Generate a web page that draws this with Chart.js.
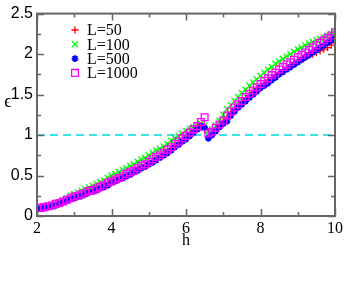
<!DOCTYPE html>
<html>
<head>
<meta charset="utf-8">
<script src="https://cdn.jsdelivr.net/npm/chart.js@4.4.0/dist/chart.umd.min.js"></script>
<style>
  html, body { margin: 0; padding: 0; background: #fff; }
  #wrap { width: 346px; height: 294px; }
</style>
</head>
<body>
<div id="wrap"><canvas id="epsChart" width="346" height="294"></canvas></div>
<script>
// h values (step 0.1)
const hValues = [
  2.0, 2.1, 2.2, 2.3, 2.4, 2.5, 2.6, 2.7, 2.8, 2.9,
  3.0, 3.1, 3.2, 3.3, 3.4, 3.5, 3.6, 3.7, 3.8, 3.9,
  4.0, 4.1, 4.2, 4.3, 4.4, 4.5, 4.6, 4.7, 4.8, 4.9,
  5.0, 5.1, 5.2, 5.3, 5.4, 5.5, 5.6, 5.7, 5.8, 5.9,
  6.0, 6.1, 6.2, 6.3, 6.4, 6.5, 6.6, 6.7, 6.8, 6.9,
  7.0, 7.1, 7.2, 7.3, 7.4, 7.5, 7.6, 7.7, 7.8, 7.9,
  8.0, 8.1, 8.2, 8.3, 8.4, 8.5, 8.6, 8.7, 8.8, 8.9,
  9.0, 9.1, 9.2, 9.3, 9.4, 9.5, 9.6, 9.7, 9.8, 9.9,
  10.0
];

const epsL50 = [
  0.09, 0.10, 0.11, 0.12, 0.13, 0.14, 0.16, 0.18, 0.20, 0.22,
  0.23, 0.25, 0.27, 0.28, 0.30, 0.32, 0.34, 0.36, 0.38, 0.40,
  0.43, 0.45, 0.47, 0.49, 0.51, 0.53, 0.56, 0.58, 0.61, 0.63,
  0.66, 0.68, 0.71, 0.74, 0.77, 0.80, 0.83, 0.87, 0.90, 0.94,
  0.97, 1.01, 1.04, 1.07, 1.09, 1.07, 1.03, 1.04, 1.08, 1.12,
  1.17, 1.21, 1.27, 1.32, 1.36, 1.41, 1.45, 1.49, 1.53, 1.57,
  1.61, 1.64, 1.68, 1.71, 1.74, 1.77, 1.80, 1.83, 1.86, 1.88,
  1.91, 1.93, 1.96, 1.98, 2.00, 2.02, 2.04, 2.06, 2.08, 2.11,
  2.14
];

const epsL100 = [
  0.10, 0.11, 0.12, 0.13, 0.14, 0.15, 0.17, 0.19, 0.22, 0.25,
  0.27, 0.29, 0.31, 0.33, 0.35, 0.37, 0.40, 0.42, 0.44, 0.47,
  0.50, 0.52, 0.54, 0.57, 0.59, 0.62, 0.64, 0.67, 0.70, 0.72,
  0.75, 0.78, 0.81, 0.83, 0.86, 0.89, 0.93, 0.96, 0.99, 1.02,
  1.05, 1.08, 1.10, 1.12, 1.14, 1.12, 1.05, 1.07, 1.12, 1.18,
  1.25, 1.32, 1.37, 1.42, 1.47, 1.52, 1.56, 1.61, 1.65, 1.69,
  1.73, 1.77, 1.81, 1.84, 1.88, 1.91, 1.94, 1.97, 2.00, 2.03,
  2.06, 2.08, 2.11, 2.13, 2.15, 2.17, 2.19, 2.21, 2.23, 2.25,
  2.27
];

const epsL500 = [
  0.08, 0.09, 0.10, 0.11, 0.12, 0.13, 0.15, 0.17, 0.19, 0.21,
  0.22, 0.24, 0.25, 0.27, 0.29, 0.30, 0.32, 0.34, 0.36, 0.38,
  0.41, 0.43, 0.45, 0.47, 0.49, 0.51, 0.54, 0.56, 0.59, 0.61,
  0.64, 0.66, 0.69, 0.72, 0.75, 0.78, 0.81, 0.85, 0.88, 0.92,
  0.95, 0.99, 1.03, 1.07, 1.11, 1.09, 0.96, 1.00, 1.05, 1.10,
  1.14, 1.17, 1.24, 1.29, 1.34, 1.38, 1.42, 1.46, 1.50, 1.54,
  1.58, 1.61, 1.64, 1.68, 1.71, 1.75, 1.78, 1.81, 1.84, 1.87,
  1.90, 1.93, 1.96, 1.99, 2.02, 2.05, 2.08, 2.11, 2.14, 2.17,
  2.21
];

const epsL1000 = [
  0.10, 0.10, 0.11, 0.12, 0.13, 0.15, 0.16, 0.18, 0.20, 0.22,
  0.24, 0.25, 0.27, 0.29, 0.31, 0.32, 0.34, 0.36, 0.38, 0.41,
  0.43, 0.45, 0.47, 0.49, 0.52, 0.54, 0.56, 0.59, 0.62, 0.64,
  0.67, 0.70, 0.73, 0.75, 0.78, 0.82, 0.85, 0.89, 0.92, 0.96,
  0.99, 1.03, 1.07, 1.11, 1.16, 1.22, 1.02, 1.04, 1.09, 1.13,
  1.18, 1.24, 1.29, 1.34, 1.38, 1.42, 1.47, 1.51, 1.55, 1.59,
  1.63, 1.67, 1.70, 1.74, 1.77, 1.81, 1.84, 1.87, 1.90, 1.93,
  1.96, 1.99, 2.02, 2.05, 2.08, 2.11, 2.14, 2.17, 2.20, 2.23,
  2.27
];

const seriesNames = ['L=50', 'L=100', 'L=500', 'L=1000'];
const xTicks = [2, 4, 6, 8, 10];
const xMinor = [3, 5, 7, 9];
const yTicks = [0, 0.5, 1, 1.5, 2, 2.5];
const yMinor = [0.25, 0.75, 1.25, 1.75, 2.25];
const refLevel = 1;
const yLabel = 'ϵ';

const toPoints = ys => hValues.map((h, i) => ({x: h, y: ys[i]}));

const sansFont = {family: '"Liberation Sans", Arial, sans-serif', size: 16};
const serifFont = {family: '"Liberation Serif", "Times New Roman", serif', size: 16};

const datasets = [
  {label: seriesNames[0], data: toPoints(epsL50), pointStyle: 'cross', pointRadius: 3.6,
   borderColor: '#ff0000', backgroundColor: '#ff0000', borderWidth: 1.3, order: 4},
  {label: seriesNames[1], data: toPoints(epsL100), pointStyle: 'crossRot', pointRadius: 4.2,
   borderColor: '#00ff00', backgroundColor: '#00ff00', borderWidth: 1.3, order: 3},
  {label: seriesNames[2], data: toPoints(epsL500), pointStyle: 'star', pointRadius: 3.4,
   borderColor: '#0000ff', backgroundColor: '#0000ff', borderWidth: 1.8, order: 2},
  {label: seriesNames[3], data: toPoints(epsL1000), pointStyle: 'rect', pointRadius: 4.8,
   borderColor: '#ff00ff', backgroundColor: 'rgba(0,0,0,0)', borderWidth: 1.3, order: 1},
  {label: 'ref', type: 'line', data: [{x: xTicks[0], y: refLevel}, {x: xTicks[xTicks.length - 1], y: refLevel}],
   borderColor: '#3fe0ea', borderWidth: 2, borderDash: [8, 5], pointRadius: 0, order: 5}
];

// frame + inward ticks on all four sides
const framePlugin = {
  id: 'frame',
  afterDatasetsDraw(chart) {
    const {ctx, chartArea: a, scales: {x, y}} = chart;
    ctx.save();
    ctx.strokeStyle = '#666';
    ctx.lineWidth = 1.5;
    ctx.beginPath();
    const xt = (vals, len) => vals.forEach(v => {
      const px = Math.round(x.getPixelForValue(v)) + 0.5;
      ctx.moveTo(px, a.bottom); ctx.lineTo(px, a.bottom - len);
      ctx.moveTo(px, a.top); ctx.lineTo(px, a.top + len);
    });
    const yt = (vals, len) => vals.forEach(v => {
      const py = Math.round(y.getPixelForValue(v)) + 0.5;
      ctx.moveTo(a.left, py); ctx.lineTo(a.left + len, py);
      ctx.moveTo(a.right, py); ctx.lineTo(a.right - len, py);
    });
    xt(xTicks, 7); xt(xMinor, 4);
    yt(yTicks, 7); yt(yMinor, 4);
    ctx.stroke();
    ctx.lineWidth = 2;
    ctx.strokeRect(a.left, a.top, a.right - a.left, a.bottom - a.top);
    ctx.restore();
  }
};

// legend inside the plot, top left, and the upright y label
const legendPlugin = {
  id: 'insideLegend',
  afterDraw(chart) {
    const {ctx} = chart;
    ctx.save();
    ctx.font = '16px ' + serifFont.family;
    ctx.textBaseline = 'middle';
    seriesNames.forEach((name, i) => {
      const ds = chart.data.datasets[i];
      const yy = 30 + i * 14.3;
      ctx.strokeStyle = ds.borderColor;
      ctx.fillStyle = ds.backgroundColor;
      ctx.lineWidth = ds.borderWidth;
      Chart.helpers.drawPoint(ctx, {pointStyle: ds.pointStyle, radius: ds.pointRadius,
        borderWidth: ds.borderWidth, rotation: 0}, 75, yy);
      ctx.fillStyle = '#000';
      ctx.fillText(name, 87, yy + 1);
    });
    ctx.font = '18px ' + serifFont.family;
    ctx.textAlign = 'center';
    ctx.fillText(yLabel, 8, 102);
    ctx.restore();
  }
};

new Chart(document.getElementById('epsChart'), {
  type: 'scatter',
  data: {datasets: datasets},
  options: {
    responsive: false,
    animation: false,
    layout: {padding: {top: 8, right: 9, left: 0, bottom: 0}},
    plugins: {legend: {display: false}, tooltip: {enabled: false}},
    scales: {
      x: {
        type: 'linear', min: 2, max: 10,
        grid: {display: false, drawTicks: false},
        border: {display: false},
        afterBuildTicks: s => { s.ticks = xTicks.map(v => ({value: v})); },
        afterFit: s => { s.height = 78; },
        ticks: {font: serifFont, color: '#000', padding: 3, callback: v => String(v)},
        title: {display: true, text: 'h', font: serifFont, color: '#000', padding: {top: 0, bottom: 44}}
      },
      y: {
        min: 0, max: 2.5,
        grid: {display: false, drawTicks: false},
        border: {display: false},
        afterBuildTicks: s => { s.ticks = yTicks.map(v => ({value: v})); },
        afterFit: s => { s.width = 37; },
        ticks: {font: sansFont, color: '#000', padding: 4, callback: v => String(v)}
      }
    }
  },
  plugins: [framePlugin, legendPlugin]
});
</script>
</body>
</html>
